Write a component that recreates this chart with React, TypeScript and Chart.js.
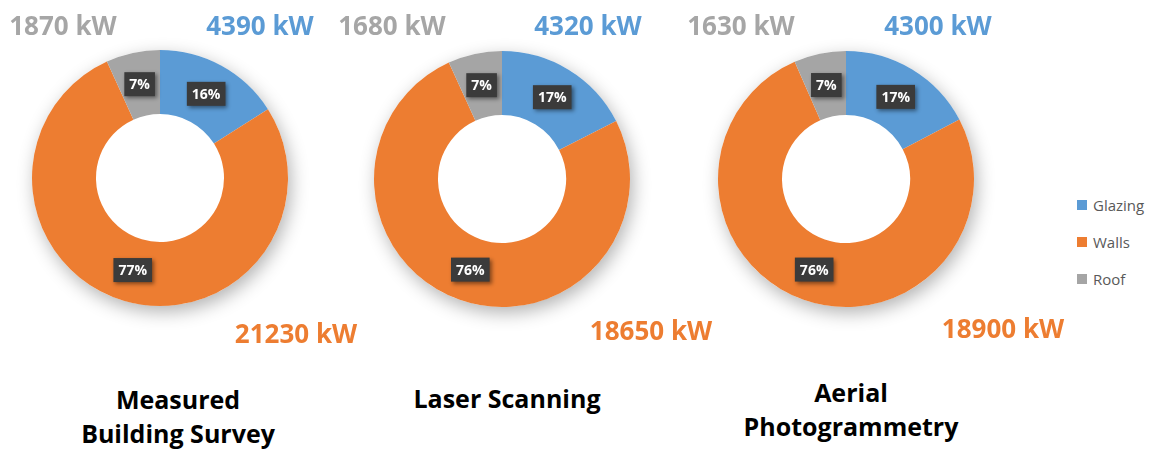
import React, { useEffect, useRef } from "react";
import { Chart, registerables } from "chart.js";

Chart.register(...registerables);

// ---------- data ----------
const categories = ["Glazing", "Walls", "Roof"];
const measuredValues = [4390, 21230, 1870];
const laserValues = [4320, 18650, 1680];
const aerialValues = [4300, 18900, 1630];
const measuredPct = ["16%", "77%", "7%"];
const laserPct = ["17%", "76%", "7%"];
const aerialPct = ["17%", "76%", "7%"];
const measuredTitle = ["Measured", "Building Survey"];
const laserTitle = ["Laser Scanning"];
const aerialTitle = ["Aerial", "Photogrammetry"];
const unit = "kW";

// ---------- styles ----------
const sliceColors = ["#5B9BD5", "#ED7D31", "#A5A5A5"];
const valueTextColors = ["#5B9BD5", "#ED7D31", "#A6A6A6"];
const FONT = "'Open Sans', 'DejaVu Sans', sans-serif";
const CANVAS = 330;
const RADIUS = 128;

type Layout = {
  cx: number;
  cy: number;
  valuePos: { x: number; base: number }[]; // glazing, walls, roof
  titleX: number;
  titleBase: number;
};

const layouts: Layout[] = [
  {
    cx: 160,
    cy: 178,
    valuePos: [
      { x: 260, base: 35 },
      { x: 296, base: 343 },
      { x: 63, base: 35 },
    ],
    titleX: 178,
    titleBase: 409,
  },
  {
    cx: 502,
    cy: 179,
    valuePos: [
      { x: 588, base: 35 },
      { x: 651, base: 340 },
      { x: 392, base: 35 },
    ],
    titleX: 507,
    titleBase: 408,
  },
  {
    cx: 846,
    cy: 179,
    valuePos: [
      { x: 938, base: 35 },
      { x: 1003, base: 338 },
      { x: 741, base: 35 },
    ],
    titleX: 851,
    titleBase: 402,
  },
];

const donutDecor = {
  id: "donutDecor",
  beforeDatasetsDraw(chart: any) {
    const meta = chart.getDatasetMeta(0);
    const arc = meta.data[0];
    if (!arc) return;
    const { x, y, outerRadius } = arc.getProps(["x", "y", "outerRadius"], true);
    const ctx = chart.ctx;
    ctx.save();
    ctx.shadowColor = "rgba(0,0,0,0.3)";
    ctx.shadowBlur = 18;
    ctx.shadowOffsetX = 3;
    ctx.shadowOffsetY = 6;
    ctx.beginPath();
    ctx.arc(x, y, outerRadius, 0, Math.PI * 2);
    ctx.fillStyle = "#ffffff";
    ctx.fill();
    ctx.restore();
  },
  afterDatasetsDraw(chart: any, _args: any, opts: any) {
    const meta = chart.getDatasetMeta(0);
    const labels: string[] = (opts && opts.labels) || [];
    const ctx = chart.ctx;
    meta.data.forEach((arc: any, i: number) => {
      const p = arc.tooltipPosition(true);
      const text = labels[i];
      if (!text) return;
      ctx.save();
      ctx.font = `bold 14px ${FONT}`;
      const tw = ctx.measureText(text).width;
      const w = tw + 10;
      const h = 24;
      ctx.shadowColor = "rgba(0,0,0,0.45)";
      ctx.shadowBlur = 4;
      ctx.shadowOffsetX = 2;
      ctx.shadowOffsetY = 2;
      ctx.fillStyle = "#3B3B3B";
      ctx.fillRect(p.x - w / 2, p.y - h / 2, w, h);
      ctx.shadowColor = "transparent";
      ctx.fillStyle = "#FFFFFF";
      ctx.textAlign = "center";
      ctx.textBaseline = "middle";
      ctx.fillText(text, p.x, p.y + 1);
      ctx.restore();
    });
  },
};

function Donut({ values, pct, layout }: { values: number[]; pct: string[]; layout: Layout }) {
  const ref = useRef<HTMLCanvasElement | null>(null);
  useEffect(() => {
    if (!ref.current) return;
    const pad = (CANVAS - RADIUS * 2) / 2;
    const chart = new Chart(ref.current, {
      type: "doughnut",
      data: {
        labels: categories,
        datasets: [
          {
            data: values,
            backgroundColor: sliceColors,
            borderWidth: 0,
            hoverOffset: 0,
          },
        ],
      },
      options: {
        responsive: false,
        animation: false,
        cutout: "50%",
        layout: { padding: pad },
        plugins: {
          legend: { display: false },
          tooltip: { enabled: false },
          donutDecor: { labels: pct },
        } as any,
        events: [],
      },
      plugins: [donutDecor as any],
    });
    return () => chart.destroy();
  }, [values, pct]);
  return (
    <canvas
      ref={ref}
      width={CANVAS}
      height={CANVAS}
      style={{
        position: "absolute",
        left: layout.cx - CANVAS / 2,
        top: layout.cy - CANVAS / 2,
        width: CANVAS,
        height: CANVAS,
      }}
    />
  );
}

const VALUE_SIZE = 26;
const TITLE_SIZE = 25;
const TITLE_LH = 34;

function ValueLabel({ text, color, x, base }: { text: string; color: string; x: number; base: number }) {
  const top = base - VALUE_SIZE * 0.888;
  return (
    <div
      style={{
        position: "absolute",
        left: x - 100,
        width: 200,
        top,
        textAlign: "center",
        fontFamily: FONT,
        fontWeight: 700,
        fontSize: VALUE_SIZE,
        lineHeight: `${VALUE_SIZE}px`,
        color,
        whiteSpace: "nowrap",
      }}
    >
      {text}
    </div>
  );
}

function Title({ lines, x, base }: { lines: string[]; x: number; base: number }) {
  const baseOff = TITLE_LH / 2 + (1.069 - 1.362 / 2) * TITLE_SIZE;
  return (
    <div
      style={{
        position: "absolute",
        left: x - 150,
        width: 300,
        top: base - baseOff,
        textAlign: "center",
        fontFamily: FONT,
        fontWeight: 700,
        fontSize: TITLE_SIZE,
        lineHeight: `${TITLE_LH}px`,
        color: "#000",
      }}
    >
      {lines.map((l, i) => (
        <div key={i}>{l}</div>
      ))}
    </div>
  );
}

export default function App() {
  const sets = [
    { values: measuredValues, pct: measuredPct, title: measuredTitle },
    { values: laserValues, pct: laserPct, title: laserTitle },
    { values: aerialValues, pct: aerialPct, title: aerialTitle },
  ];
  const legendY = [205, 242, 279];
  return (
    <div
      style={{
        position: "absolute",
        left: 0,
        top: 0,
        width: 1158,
        height: 452,
        background: "#fff",
        overflow: "hidden",
      }}
    >
      {sets.map((s, k) => (
        <React.Fragment key={k}>
          <Donut values={s.values} pct={s.pct} layout={layouts[k]} />
          {s.values.map((v, i) => (
            <ValueLabel
              key={i}
              text={`${v} ${unit}`}
              color={valueTextColors[i]}
              x={layouts[k].valuePos[i].x}
              base={layouts[k].valuePos[i].base}
            />
          ))}
          <Title lines={s.title} x={layouts[k].titleX} base={layouts[k].titleBase} />
        </React.Fragment>
      ))}
      {categories.map((c, i) => (
        <div
          key={c}
          style={{
            position: "absolute",
            left: 1077,
            top: legendY[i] - 10,
            height: 20,
            display: "flex",
            alignItems: "center",
            fontFamily: FONT,
            fontSize: 15,
            color: "#595959",
          }}
        >
          <span
            style={{
              display: "inline-block",
              width: 10,
              height: 10,
              background: sliceColors[i],
              marginRight: 6,
            }}
          />
          <span>{c}</span>
        </div>
      ))}
    </div>
  );
}
